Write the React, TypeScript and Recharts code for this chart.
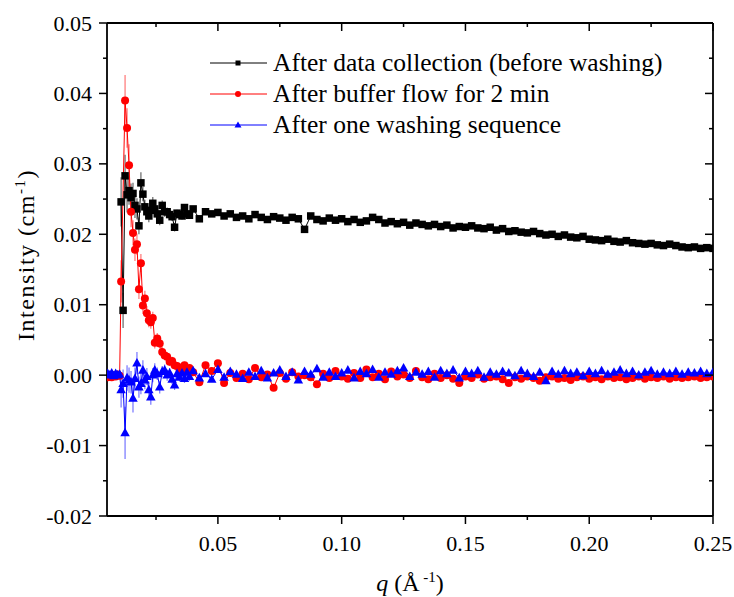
import { LineChart, Line, XAxis, YAxis, ErrorBar, Customized } from "recharts";

const FONT = '"Liberation Serif", "Times New Roman", serif';

// q grid (Å^-1): fine steps near the peak, then 0.0025 steps
const qLow = [0.0055, 0.0063, 0.0071, 0.0079, 0.0087, 0.0095, 0.0103, 0.0109, 0.0117, 0.0125,
  0.0133, 0.0141, 0.0149, 0.0157, 0.0165, 0.0173, 0.0181, 0.0189, 0.0197, 0.0205,
  0.0213, 0.0221, 0.0229, 0.0237, 0.0245, 0.0255, 0.0265, 0.0275, 0.0285, 0.0295,
  0.0305, 0.0315, 0.0325, 0.0335, 0.0345, 0.0355, 0.0365, 0.0375, 0.0385];
const qHigh = [0.0400, 0.0425, 0.0450, 0.0475, 0.0500, 0.0525, 0.0550, 0.0575, 0.0600, 0.0625,
  0.0650, 0.0675, 0.0700, 0.0725, 0.0750, 0.0775, 0.0800, 0.0825, 0.0850, 0.0875,
  0.0900, 0.0925, 0.0950, 0.0975, 0.1000, 0.1025, 0.1050, 0.1075, 0.1100, 0.1125,
  0.1150, 0.1175, 0.1200, 0.1225, 0.1250, 0.1275, 0.1300, 0.1325, 0.1350, 0.1375,
  0.1400, 0.1425, 0.1450, 0.1475, 0.1500, 0.1525, 0.1550, 0.1575, 0.1600, 0.1625,
  0.1650, 0.1675, 0.1700, 0.1725, 0.1750, 0.1775, 0.1800, 0.1825, 0.1850, 0.1875,
  0.1900, 0.1925, 0.1950, 0.1975, 0.2000, 0.2025, 0.2050, 0.2075, 0.2100, 0.2125,
  0.2150, 0.2175, 0.2200, 0.2225, 0.2250, 0.2275, 0.2300, 0.2325, 0.2350, 0.2375,
  0.2400, 0.2425, 0.2450, 0.2475, 0.2500];

// After data collection (before washing)
const blackLow = [null, null, null, null, null, null, null, 0.0246, 0.0092, 0.0283,
  0.0256, 0.0262, 0.0252, 0.0258, 0.0241, 0.0236, 0.0212, 0.0273, 0.0257, 0.0239,
  0.0232, 0.0226, 0.0234, 0.0244, 0.0236, 0.0229, 0.0220, 0.0241, 0.0232, 0.0232,
  0.0228, 0.0225, 0.0210, 0.0230, 0.0228, 0.0226, 0.0238, 0.0229, 0.0227];
const blackHigh = [0.0236, 0.0222, 0.0232, 0.0229, 0.0231, 0.0226, 0.0229, 0.0224, 0.0226, 0.0222,
  0.0228, 0.0224, 0.0221, 0.0225, 0.0223, 0.0220, 0.0224, 0.0222, 0.0207, 0.0226,
  0.0221, 0.0219, 0.0223, 0.0220, 0.0222, 0.0218, 0.0221, 0.0217, 0.0219, 0.0224,
  0.0221, 0.0216, 0.0218, 0.0215, 0.0217, 0.0213, 0.0216, 0.0214, 0.0212, 0.0214,
  0.0211, 0.0213, 0.0209, 0.0211, 0.0210, 0.0212, 0.0209, 0.0208, 0.0210, 0.0206,
  0.0208, 0.0204, 0.0205, 0.0203, 0.0202, 0.0204, 0.0201, 0.0199, 0.0200, 0.0197,
  0.0199, 0.0196, 0.0195, 0.0197, 0.0193, 0.0192, 0.0191, 0.0193, 0.0190, 0.0189,
  0.0191, 0.0188, 0.0187, 0.0186, 0.0187, 0.0185, 0.0184, 0.0186, 0.0184, 0.0182,
  0.0181, 0.0182, 0.0180, 0.0181, 0.0180];
const blackErrLow = [null, null, null, null, null, null, null, 0.0035, 0.0025, 0.0030,
  0.0025, 0.0020, 0.0020, 0.0015, 0.0018, 0.0015, 0.0012, 0.0015, 0.0010, 0.0010,
  0.0010, 0.0009, 0.0010, 0.0009, 0.0008, 0.0008, 0.0007, 0.0007, 0.0007, 0.0006,
  0.0006, 0.0006, 0.0006, 0.0005, 0.0005, 0.0005, 0.0005, 0.0005, 0.0005];

// After buffer flow for 2 min
const redLow = [-0.0003, -0.0001, -0.0003, 0.0000, -0.0002, 0.0001, -0.0001, 0.0133, null, 0.0390,
  0.0351, 0.0298, 0.0232, 0.0202, 0.0178, 0.0186, 0.0122, 0.0159, 0.0099, 0.0109,
  0.0088, 0.0078, 0.0075, 0.0081, 0.0046, 0.0052, 0.0045, 0.0033, 0.0028, 0.0026,
  0.0019, 0.0020, 0.0014, 0.0013, 0.0008, 0.0011, 0.0014, 0.0006, 0.0010];
const redHigh = [0.0004, -0.0010, 0.0014, 0.0006, 0.0017, -0.0011, 0.0003, -0.0004, 0.0002, -0.0006,
  0.0010, -0.0003, 0.0001, -0.0018, 0.0003, -0.0005, 0.0004, -0.0002, 0.0000, -0.0003,
  -0.0013, 0.0002, -0.0004, 0.0006, -0.0002, -0.0005, 0.0003, -0.0004, 0.0008, -0.0003,
  0.0002, -0.0006, 0.0005, -0.0002, 0.0001, -0.0004, 0.0006, -0.0003, -0.0006, 0.0002,
  -0.0004, 0.0000, -0.0005, -0.0011, -0.0002, -0.0004, 0.0001, -0.0005, -0.0003, -0.0002,
  -0.0006, -0.0011, -0.0003, -0.0005, -0.0002, -0.0004, -0.0008, -0.0003, -0.0002, -0.0005,
  -0.0004, -0.0007, -0.0003, -0.0002, -0.0005, -0.0003, -0.0006, -0.0002, -0.0004, -0.0003,
  -0.0006, -0.0004, -0.0002, -0.0005, -0.0003, -0.0004, -0.0002, -0.0005, -0.0003, -0.0004,
  -0.0003, -0.0002, -0.0004, -0.0003, -0.0002];
const redErrLow = [0.0004, 0.0004, 0.0004, 0.0004, 0.0004, 0.0004, 0.0004, 0.0030, null, 0.0036,
  0.0028, 0.0030, 0.0022, 0.0018, 0.0016, 0.0015, 0.0014, 0.0013, 0.0012, 0.0011,
  0.0010, 0.0010, 0.0009, 0.0009, 0.0008, 0.0008, 0.0007, 0.0007, 0.0007, 0.0006,
  0.0006, 0.0006, 0.0006, 0.0005, 0.0005, 0.0005, 0.0005, 0.0005, 0.0005];

// After one washing sequence
const blueLow = [0.0002, 0.0000, 0.0003, -0.0001, 0.0002, 0.0000, 0.0001, -0.0021, -0.0012, -0.0082,
  -0.0004, -0.0007, -0.0010, -0.0033, -0.0005, 0.0017, -0.0017, -0.0012, 0.0007, -0.0007,
  -0.0002, -0.0021, -0.0031, 0.0000, 0.0007, 0.0002, -0.0017, 0.0005, 0.0007, 0.0000,
  0.0003, -0.0006, -0.0014, 0.0002, -0.0003, 0.0003, -0.0005, 0.0004, -0.0002];
const blueHigh = [0.0006, -0.0004, 0.0002, -0.0006, 0.0008, -0.0003, 0.0005, 0.0001, -0.0005, 0.0004,
  -0.0002, 0.0006, -0.0004, 0.0003, 0.0007, -0.0002, 0.0004, -0.0007, 0.0005, 0.0001,
  0.0009, -0.0003, 0.0004, -0.0002, 0.0003, 0.0007, -0.0004, 0.0005, 0.0002, 0.0008,
  -0.0003, 0.0004, 0.0001, 0.0006, 0.0010, -0.0002, 0.0004, 0.0001, 0.0005, -0.0003,
  0.0006, 0.0002, 0.0007, -0.0004, 0.0005, 0.0002, 0.0006, -0.0003, 0.0004, 0.0001,
  0.0005, 0.0003, -0.0001, 0.0006, 0.0002, -0.0002, 0.0004, -0.0008, 0.0005, 0.0001,
  0.0006, 0.0002, 0.0004, -0.0001, 0.0005, 0.0002, 0.0006, 0.0001, 0.0004, 0.0007,
  0.0002, 0.0005, 0.0000, 0.0004, 0.0006, 0.0001, 0.0004, 0.0002, 0.0005, 0.0001,
  0.0004, 0.0003, 0.0005, 0.0002, 0.0004];
const blueErrLow = [0.0004, 0.0004, 0.0004, 0.0004, 0.0004, 0.0004, 0.0004, 0.0025, 0.0020, 0.0037,
  0.0018, 0.0018, 0.0016, 0.0020, 0.0016, 0.0016, 0.0015, 0.0015, 0.0014, 0.0013,
  0.0012, 0.0012, 0.0011, 0.0010, 0.0010, 0.0009, 0.0009, 0.0008, 0.0008, 0.0008,
  0.0007, 0.0007, 0.0007, 0.0006, 0.0006, 0.0006, 0.0006, 0.0006, 0.0006];

const seriesNames = [
  "After data collection (before washing)",
  "After buffer flow for 2 min",
  "After one washing sequence",
];

const xTicks = [0.025, 0.05, 0.075, 0.1, 0.125, 0.15, 0.175, 0.2, 0.225, 0.25];
const xTickLabels = ["", "0.05", "", "0.10", "", "0.15", "", "0.20", "", "0.25"];
const yTicks = [-0.02, -0.015, -0.01, -0.005, 0, 0.005, 0.01, 0.015, 0.02, 0.025, 0.03, 0.035, 0.04, 0.045, 0.05];
const yTickLabels = ["-0.02", "", "-0.01", "", "0.00", "", "0.01", "", "0.02", "", "0.03", "", "0.04", "", "0.05"];

const qAll = [...qLow, ...qHigh];
const blackAll = [...blackLow, ...blackHigh];
const redAll = [...redLow, ...redHigh];
const blueAll = [...blueLow, ...blueHigh];

const data = qAll.map((q, i) => ({
  q,
  black: blackAll[i],
  red: redAll[i],
  blue: blueAll[i],
  blackErr: blackErrLow[i] ?? undefined,
  redErr: redErrLow[i] ?? undefined,
  blueErr: blueErrLow[i] ?? undefined,
}));

const MAJOR = 8;
const MINOR = 4;
const TICK_FONT = 22;
const textStyle = { fontFamily: FONT };

function square(size: number, color: string) {
  return (props: any) => {
    const { cx, cy, value, index } = props;
    if (cx == null || cy == null || value == null) return <g key={`s-${index}`} />;
    return <rect key={`s-${index}`} x={cx - size / 2} y={cy - size / 2} width={size} height={size} fill={color} />;
  };
}

function circle(r: number, color: string) {
  return (props: any) => {
    const { cx, cy, value, index } = props;
    if (cx == null || cy == null || value == null) return <g key={`c-${index}`} />;
    return <circle key={`c-${index}`} cx={cx} cy={cy} r={r} fill={color} />;
  };
}

function triangle(s: number, color: string) {
  return (props: any) => {
    const { cx, cy, value, index } = props;
    if (cx == null || cy == null || value == null) return <g key={`t-${index}`} />;
    const h = s * 0.9;
    const pts = `${cx},${cy - h * 0.6} ${cx - s / 2},${cy + h * 0.4} ${cx + s / 2},${cy + h * 0.4}`;
    return <polygon key={`t-${index}`} points={pts} fill={color} />;
  };
}

const BottomTick = (props: any) => {
  const { x, y, payload } = props;
  const i = xTicks.indexOf(payload.value);
  const label = xTickLabels[i];
  return (
    <g>
      <line x1={x} x2={x} y1={y} y2={y + (label ? MAJOR : MINOR)} stroke="#000" strokeWidth={1.5} />
      {label && (
        <text x={x} y={y + 35} textAnchor="middle" fontSize={TICK_FONT} style={textStyle} fill="#000">
          {label}
        </text>
      )}
    </g>
  );
};

const TopTick = (props: any) => {
  const { x, y, payload } = props;
  const i = xTicks.indexOf(payload.value);
  const len = xTickLabels[i] ? MAJOR : MINOR;
  return <line x1={x} x2={x} y1={y} y2={y + len} stroke="#000" strokeWidth={1.5} />;
};

const LeftTick = (props: any) => {
  const { x, y, payload } = props;
  const i = yTicks.indexOf(payload.value);
  const label = yTickLabels[i];
  return (
    <g>
      <line x1={x} x2={x - (label ? MAJOR : MINOR)} y1={y} y2={y} stroke="#000" strokeWidth={1.5} />
      {label && (
        <text x={x - 15} y={y + 7.5} textAnchor="end" fontSize={TICK_FONT} style={textStyle} fill="#000">
          {label}
        </text>
      )}
    </g>
  );
};

const RightTick = (props: any) => {
  const { x, y, payload } = props;
  const i = yTicks.indexOf(payload.value);
  const len = yTickLabels[i] ? MAJOR : MINOR;
  return <line x1={x} x2={x - len} y1={y} y2={y} stroke="#000" strokeWidth={1.5} />;
};

const legendRows = [
  { color: "#000000", mark: "square" },
  { color: "#ff0000", mark: "circle" },
  { color: "#0000ff", mark: "triangle" },
];

const Decorations = () => (
  <g style={textStyle} fill="#000">
    {/* legend */}
    {legendRows.map((row, i) => {
      const y = 63 + i * 31;
      return (
        <g key={i}>
          <line x1={210} x2={267} y1={y} y2={y} stroke={row.color} strokeWidth={1} />
          {row.mark === "square" && <rect x={235.5} y={y - 2.5} width={5} height={5} fill={row.color} />}
          {row.mark === "circle" && <circle cx={238} cy={y} r={3} fill={row.color} />}
          {row.mark === "triangle" && <polygon points={`238,${y - 3.5} 234.5,${y + 2.5} 241.5,${y + 2.5}`} fill={row.color} />}
          <text x={273} y={y + 8} fontSize={25.5} style={textStyle}>{seriesNames[i]}</text>
        </g>
      );
    })}
    {/* y axis title */}
    <text transform="translate(34,255) rotate(-90)" textAnchor="middle" fontSize={24} letterSpacing={1.5} style={textStyle}>
      Intensity (cm<tspan dy={-9} fontSize={15}>-1</tspan><tspan dy={9}>)</tspan>
    </text>
    {/* x axis title */}
    <text x={410} y={591} textAnchor="middle" fontSize={24} style={textStyle}>
      <tspan fontStyle="italic">q</tspan> (Å<tspan dy={-9} fontSize={15}> -1</tspan><tspan dy={9}>)</tspan>
    </text>
  </g>
);

export default function App() {
  return (
    <div style={{ position: "absolute", left: 0, top: 0 }}>
      <LineChart
        width={734}
        height={597}
        data={data}
        margin={{ top: 22, right: 20, bottom: 80, left: 106 }}
        style={{ fontFamily: FONT }}
      >
        <XAxis
          dataKey="q"
          type="number"
          domain={[0.0052, 0.25]}
          allowDataOverflow
          ticks={xTicks}
          interval={0}
          height={1}
          tickSize={0}
          tickMargin={0}
          tickLine={false}
          tick={<BottomTick />}
          axisLine={{ stroke: "#000", strokeWidth: 1.8 }}
        />
        <XAxis
          xAxisId="top"
          orientation="top"
          dataKey="q"
          type="number"
          domain={[0.0052, 0.25]}
          allowDataOverflow
          ticks={xTicks}
          interval={0}
          height={1}
          tickSize={0}
          tickMargin={0}
          tickLine={false}
          tick={<TopTick />}
          axisLine={{ stroke: "#000", strokeWidth: 1.8 }}
        />
        <YAxis
          type="number"
          domain={[-0.02, 0.05]}
          allowDataOverflow
          ticks={yTicks}
          interval={0}
          width={1}
          tickSize={0}
          tickMargin={0}
          tickLine={false}
          tick={<LeftTick />}
          axisLine={{ stroke: "#000", strokeWidth: 1.8 }}
        />
        <YAxis
          yAxisId="right"
          orientation="right"
          type="number"
          domain={[-0.02, 0.05]}
          allowDataOverflow
          ticks={yTicks}
          interval={0}
          width={1}
          tickSize={0}
          tickMargin={0}
          tickLine={false}
          tick={<RightTick />}
          axisLine={{ stroke: "#000", strokeWidth: 1.8 }}
        />
        <Line
          dataKey="black"
          stroke="#000000"
          strokeWidth={1}
          connectNulls
          isAnimationActive={false}
          dot={square(7.5, "#000000")}
          activeDot={false}
        >
          <ErrorBar dataKey="blackErr" direction="y" width={0} stroke="#000000" strokeOpacity={0.6} strokeWidth={1.2} />
        </Line>
        <Line
          dataKey="red"
          stroke="#ff0000"
          strokeWidth={1}
          connectNulls
          isAnimationActive={false}
          dot={circle(4, "#ff0000")}
          activeDot={false}
        >
          <ErrorBar dataKey="redErr" direction="y" width={0} stroke="#ff0000" strokeOpacity={0.55} strokeWidth={1.2} />
        </Line>
        <Line
          dataKey="blue"
          stroke="#0000ff"
          strokeWidth={1}
          connectNulls
          isAnimationActive={false}
          dot={triangle(9.5, "#0000ff")}
          activeDot={false}
        >
          <ErrorBar dataKey="blueErr" direction="y" width={0} stroke="#0000ff" strokeOpacity={0.55} strokeWidth={1.2} />
        </Line>
        <Customized component={<Decorations />} />
      </LineChart>
    </div>
  );
}
